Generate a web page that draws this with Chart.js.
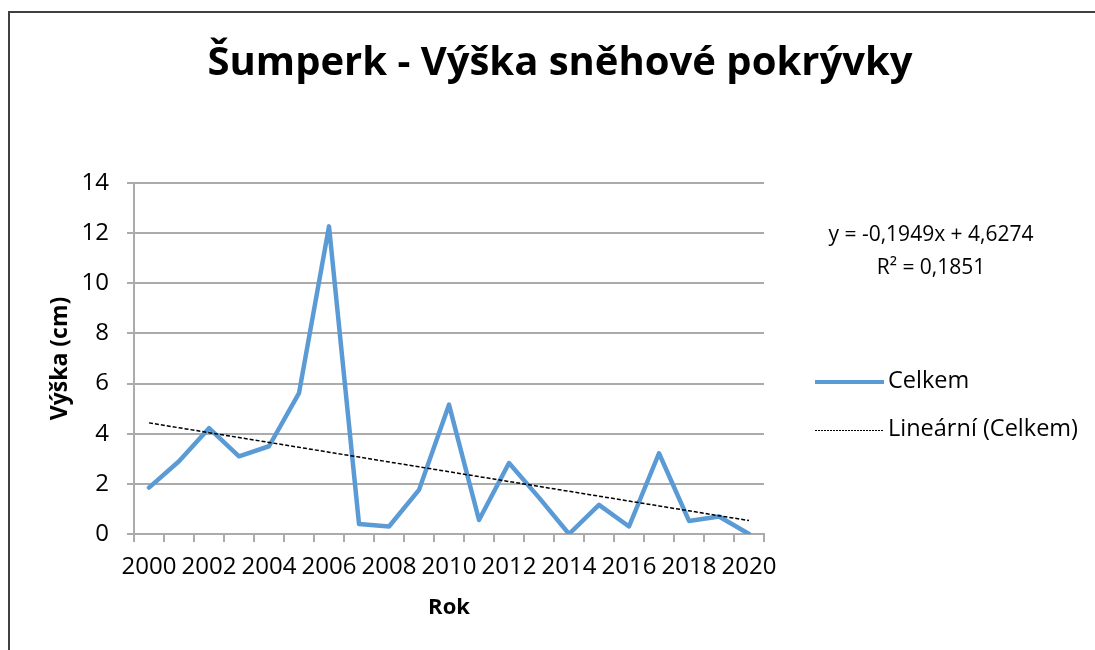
<!DOCTYPE html>
<html lang="cs">
<head>
    <meta charset="UTF-8">
    <title>Šumperk - Výška sněhové pokrývky</title>
    <script src="https://cdn.jsdelivr.net/npm/chart.js"></script>
    <style>
        html, body {
            margin: 0;
            padding: 0;
            background: #fff;
            overflow: hidden;
        }
        .chart-container {
            position: absolute;
            left: 0;
            top: 0;
            width: 1095px;
            height: 650px;
        }
    </style>
</head>
<body>
    <div class="chart-container">
        <canvas id="snowChart" width="1095" height="650"></canvas>
    </div>

    <script>
        // Roky a průměrná výška sněhu (cm)
        const years = ['2000', '2001', '2002', '2003', '2004', '2005', '2006', '2007', '2008', '2009', '2010',
                       '2011', '2012', '2013', '2014', '2015', '2016', '2017', '2018', '2019', '2020'];
        const celkem = [1.85, 2.90, 4.22, 3.10, 3.50, 5.62, 12.27, 0.40, 0.30, 1.76, 5.16,
                        0.56, 2.83, 1.45, 0.00, 1.16, 0.30, 3.22, 0.52, 0.70, 0.00];

        // Lineární trend: y = -0,1949x + 4,6274 (x = 1 .. 21)
        const trendSlope = -0.1949;
        const trendIntercept = 4.6274;
        const trendR2 = 0.1851;
        const trend = years.map((_, i) => trendSlope * (i + 1) + trendIntercept);

        const yTicks = [0, 2, 4, 6, 8, 10, 12, 14];

        const FONT = '"Open Sans", "Liberation Sans", sans-serif';
        const BLUE = '#5B9BD5';
        const GRID = '#ababab';

        const fmt = v => v.toFixed(4).replace('.', ',');

        // Frame of the chart object (only top and left edges are in view)
        const frame = {
            id: 'frame',
            beforeDraw(chart) {
                const ctx = chart.ctx;
                ctx.save();
                ctx.strokeStyle = '#404040';
                ctx.lineWidth = 2;
                ctx.beginPath();
                ctx.moveTo(9, 700);
                ctx.lineTo(9, 12);
                ctx.lineTo(1200, 12);
                ctx.stroke();
                ctx.restore();
            }
        };

        // Title, trend equation and legend drawn on top of the chart
        const annotations = {
            id: 'annotations',
            afterDraw(chart) {
                const ctx = chart.ctx;
                ctx.save();
                ctx.fillStyle = '#000';
                ctx.textBaseline = 'middle';

                ctx.font = 'bold 40px ' + FONT;
                ctx.textAlign = 'center';
                ctx.fillText('Šumperk - Výška sněhové pokrývky', 560, 64);

                ctx.font = '21px ' + FONT;
                const slopeText = trendSlope < 0 ? '-' + fmt(-trendSlope) : fmt(trendSlope);
                ctx.fillText('y = ' + slopeText + 'x + ' + fmt(trendIntercept), 931, 235);
                ctx.fillText('R² = ' + fmt(trendR2), 931, 268);

                // legend
                ctx.font = '23.5px ' + FONT;
                ctx.textAlign = 'left';
                ctx.strokeStyle = BLUE;
                ctx.lineWidth = 4;
                ctx.beginPath();
                ctx.moveTo(815, 382);
                ctx.lineTo(884, 382);
                ctx.stroke();
                ctx.fillText(chart.data.datasets[1].label, 888, 381);

                ctx.strokeStyle = '#000';
                ctx.lineWidth = 1;
                ctx.setLineDash([2, 1]);
                ctx.beginPath();
                ctx.moveTo(815, 430.5);
                ctx.lineTo(884, 430.5);
                ctx.stroke();
                ctx.setLineDash([]);
                ctx.fillText(chart.data.datasets[0].label, 888, 429);
                ctx.restore();
            }
        };

        new Chart(document.getElementById('snowChart'), {
            type: 'line',
            data: {
                labels: years,
                datasets: [{
                    label: 'Lineární (Celkem)',
                    data: trend,
                    borderColor: '#000',
                    borderWidth: 1.5,
                    borderDash: [4, 2],
                    pointRadius: 0,
                    tension: 0,
                    order: 0
                }, {
                    label: 'Celkem',
                    data: celkem,
                    borderColor: BLUE,
                    borderWidth: 4.5,
                    borderJoinStyle: 'round',
                    borderCapStyle: 'round',
                    pointRadius: 0,
                    tension: 0,
                    order: 1
                }]
            },
            options: {
                responsive: false,
                animation: false,
                layout: {
                    padding: { left: 47, top: 183, right: 331, bottom: 29 }
                },
                plugins: {
                    legend: { display: false },
                    tooltip: { enabled: false }
                },
                scales: {
                    x: {
                        offset: true,
                        grid: {
                            offset: true,
                            drawOnChartArea: false,
                            drawTicks: true,
                            tickLength: 8,
                            color: GRID,
                            lineWidth: 2
                        },
                        border: { color: GRID, width: 2 },
                        ticks: {
                            autoSkip: false,
                            maxRotation: 0,
                            padding: 11,
                            color: '#000',
                            font: { family: FONT, size: 24 },
                            callback: (v, i) => (i % 2 === 0 ? years[i] : '')
                        },
                        title: {
                            display: true,
                            text: 'Rok',
                            color: '#000',
                            font: { family: FONT, size: 22, weight: 'bold' },
                            padding: 0
                        },
                        afterFit: scale => { scale.height = 650 - 29 - 534; }
                    },
                    y: {
                        min: 0,
                        max: 14,
                        afterBuildTicks: scale => { scale.ticks = yTicks.map(v => ({ value: v })); },
                        grid: {
                            color: GRID,
                            lineWidth: 2,
                            drawTicks: true,
                            tickLength: 7
                        },
                        border: { color: GRID, width: 2 },
                        ticks: {
                            padding: 18,
                            color: '#000',
                            font: { family: FONT, size: 24 }
                        },
                        title: {
                            display: true,
                            text: 'Výška (cm)',
                            color: '#000',
                            font: { family: FONT, size: 23, weight: 'bold' },
                            padding: 0
                        },
                        afterFit: scale => { scale.width = 134 - 47; }
                    }
                }
            },
            plugins: [frame, annotations]
        });
    </script>
</body>
</html>
